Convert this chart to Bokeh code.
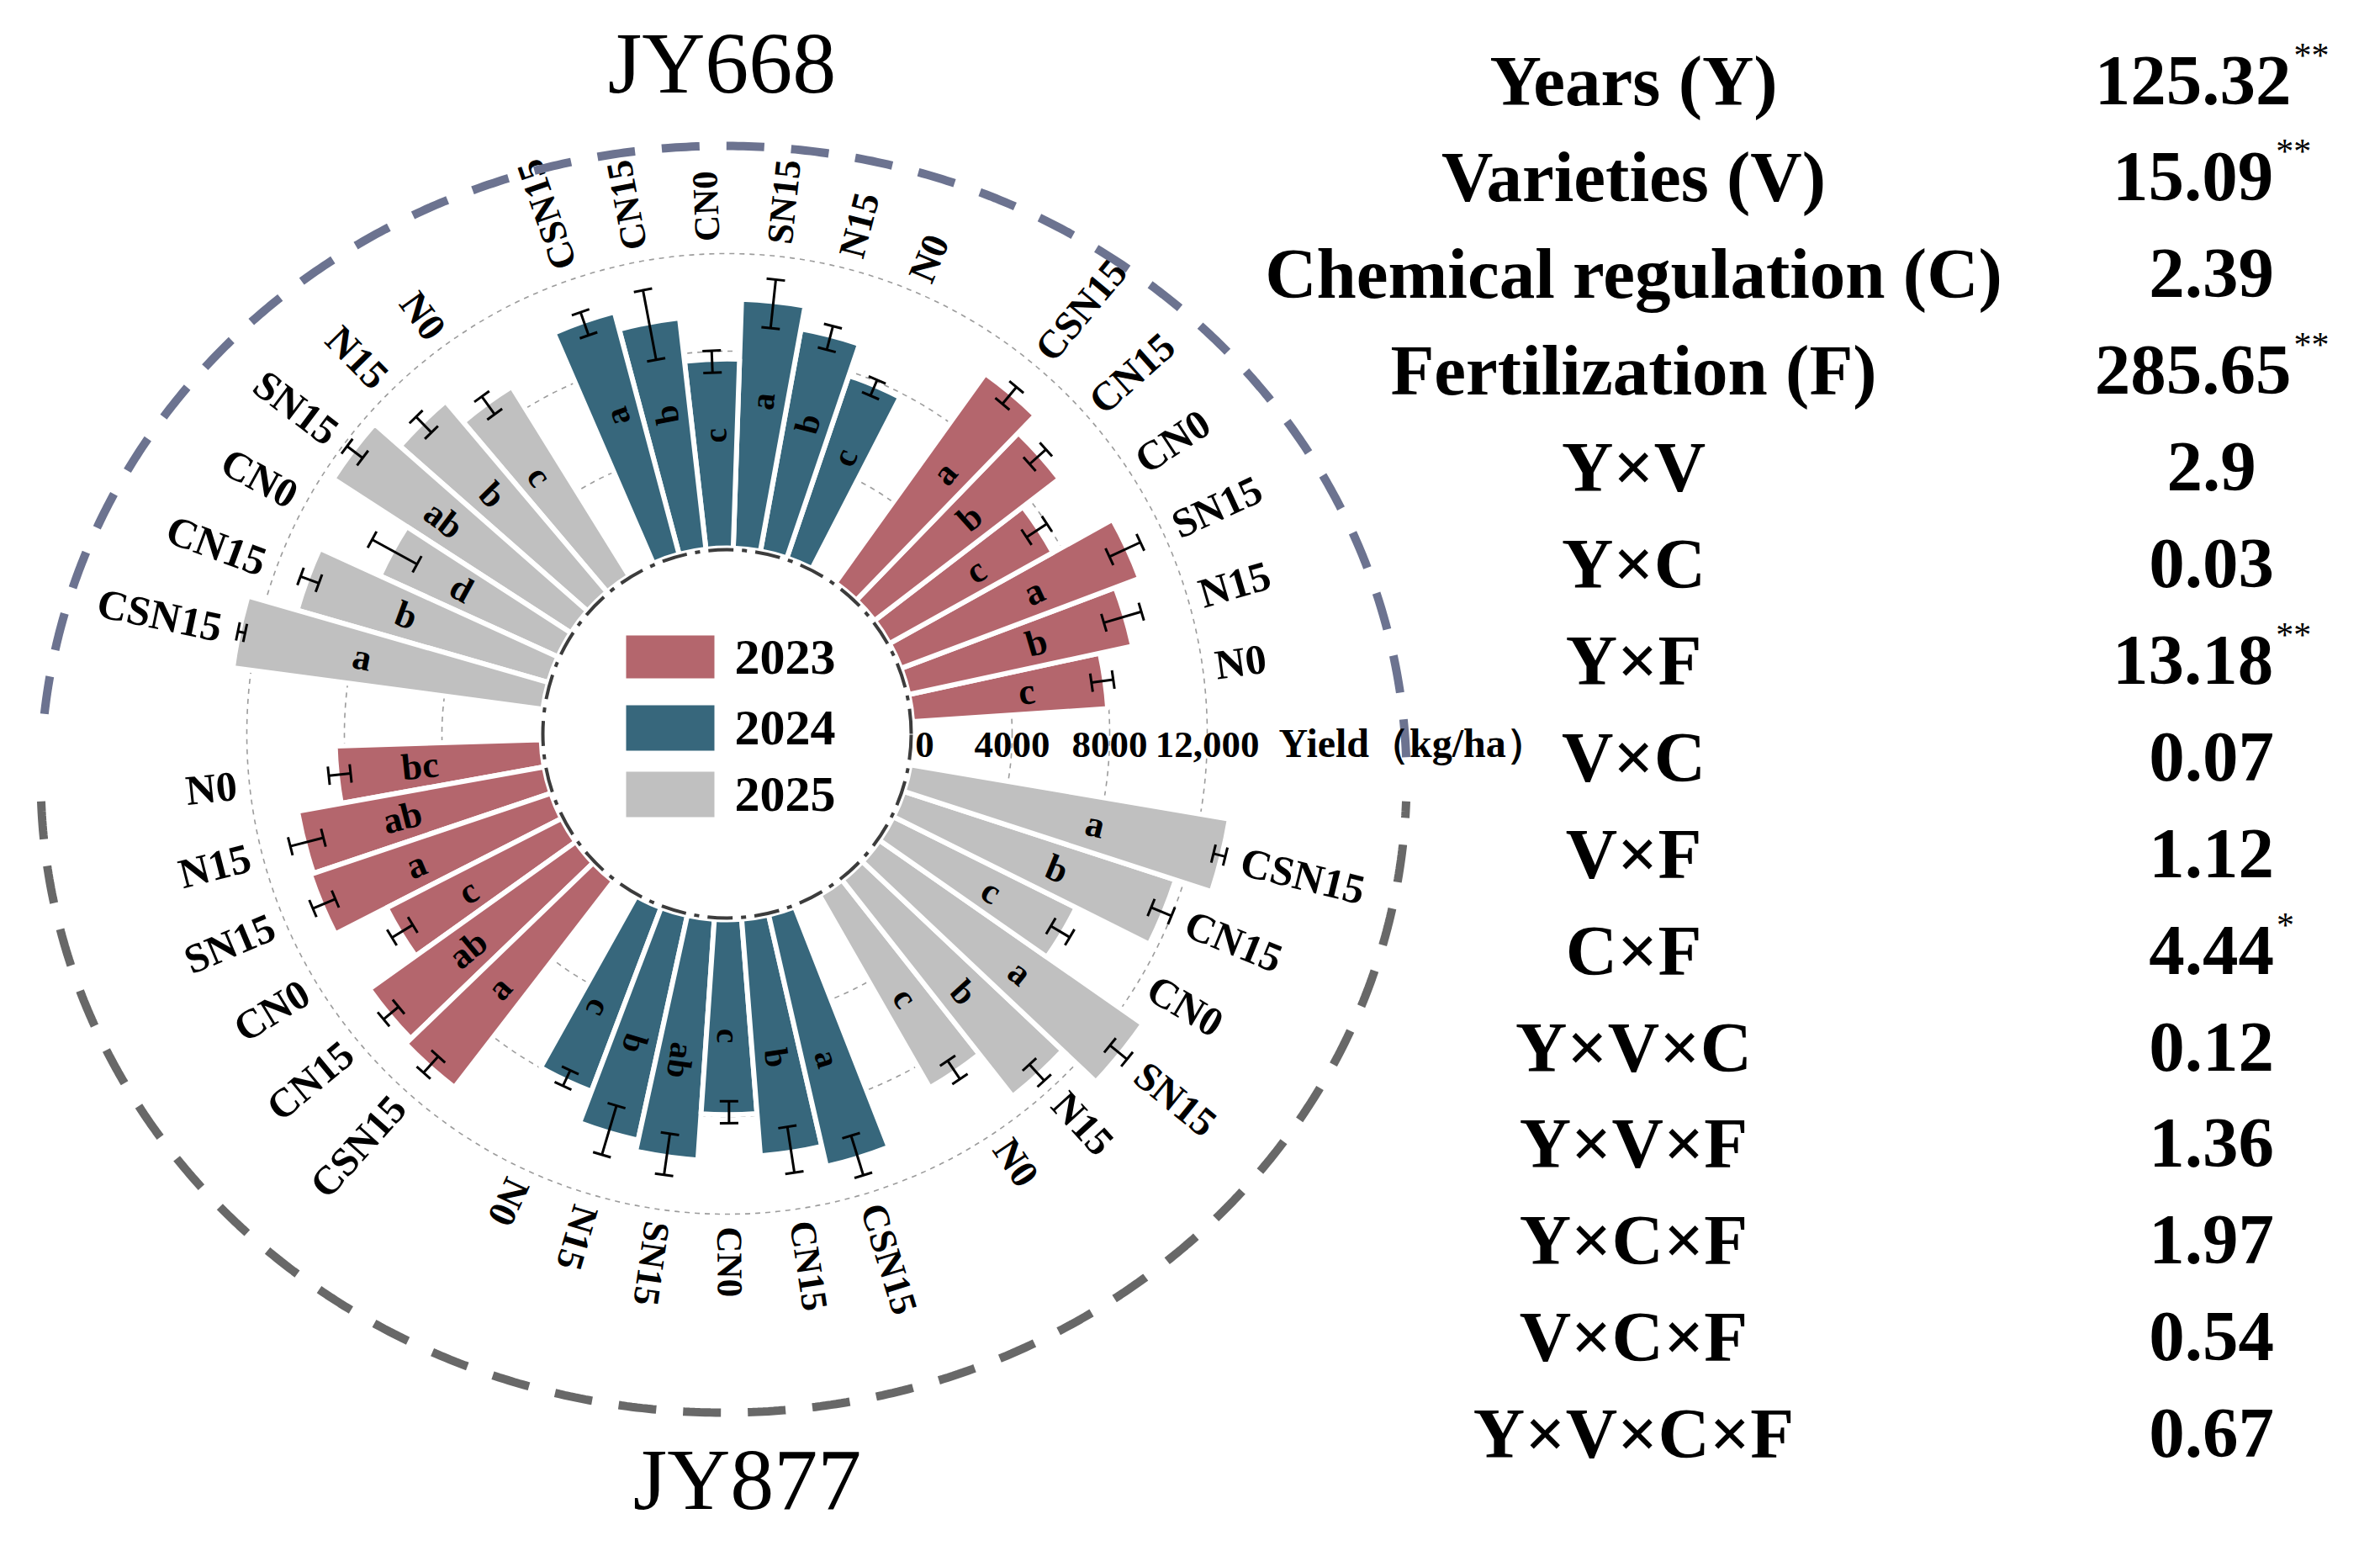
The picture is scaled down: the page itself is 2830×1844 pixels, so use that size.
import math
import numpy as np
from bokeh.plotting import figure
from bokeh.models import Range1d
from bokeh.core.properties import value
from bokeh.embed import file_html
from bokeh.resources import INLINE

# ---------------- data ----------------
treatments = ["N0", "N15", "SN15", "CN0", "CN15", "CSN15"]
years = ["2023", "2024", "2025"]
varieties = ["JY668", "JY877"]

jy668_2023 = [7850, 9220, 10290, 7500, 9380, 10380]
jy668_2023_err = [450, 800, 700, 500, 450, 450]
jy668_2023_sig = ["c", "b", "a", "c", "b", "a"]
jy668_2024 = [7720, 9080, 10040, 7580, 9370, 10110]
jy668_2024_err = [350, 500, 1000, 450, 1450, 500]
jy668_2024_sig = ["c", "b", "a", "c", "b", "a"]
jy668_2025 = [8960, 10070, 11450, 7850, 10550, 12650]
jy668_2025_err = [450, 450, 400, 1050, 400, 150]
jy668_2025_sig = ["c", "b", "ab", "d", "b", "a"]

jy877_2023 = [8280, 10100, 10240, 7890, 10220, 10510]
jy877_2023_err = [450, 700, 500, 500, 400, 450]
jy877_2023_sig = ["bc", "ab", "a", "c", "ab", "a"]
jy877_2024 = [7880, 9260, 9720, 7820, 9560, 10400]
jy877_2024_err = [350, 1050, 850, 450, 950, 850]
jy877_2024_sig = ["c", "b", "ab", "c", "b", "a"]
jy877_2025 = [8930, 11130, 13000, 8200, 11550, 13100]
jy877_2025_err = [450, 450, 450, 450, 450, 250]
jy877_2025_sig = ["c", "b", "a", "c", "b", "a"]

yield_ticks = [0, 4000, 8000, 12000]
yield_tick_labels = ["0", "4000", "8000", "12,000"]
yield_title = "Yield（kg/ha）"

anova_terms = ["Years (Y)", "Varieties (V)", "Chemical regulation (C)", "Fertilization (F)",
               "Y×V", "Y×C", "Y×F", "V×C", "V×F", "C×F",
               "Y×V×C", "Y×V×F", "Y×C×F", "V×C×F", "Y×V×C×F"]
anova_F = ["125.32", "15.09", "2.39", "285.65", "2.9", "0.03", "13.18", "0.07",
           "1.12", "4.44", "0.12", "1.36", "1.97", "0.54", "0.67"]
anova_sig = ["**", "**", "", "**", "", "", "**", "", "", "*", "", "", "", "", ""]

year_colors = ["#B4666D", "#37677C", "#C0C0C0"]

series = [
    (0, 0, jy668_2023, jy668_2023_err, jy668_2023_sig),
    (0, 1, jy668_2024, jy668_2024_err, jy668_2024_sig),
    (0, 2, jy668_2025, jy668_2025_err, jy668_2025_sig),
    (1, 0, jy877_2023, jy877_2023_err, jy877_2023_sig),
    (1, 1, jy877_2024, jy877_2024_err, jy877_2024_sig),
    (1, 2, jy877_2025, jy877_2025_err, jy877_2025_sig),
]

# ---------------- layout ----------------
W, H = 2814, 1828


def tx(xi):
    return xi - 8


def ty(yi):
    return 1836 - yi


CX, CY = tx(872), ty(880)
R0 = 223.0
K = 116.0 / 4000.0
HALF_START = [8.0, 186.0]
STEP = 8.43
LABEL_R = 586
FONT = value("Liberation Serif")


def rad(v):
    return R0 + K * v


def flip(theta):
    return 115 < theta < 235


p = figure(width=W, height=H, x_range=Range1d(0, W), y_range=Range1d(0, H),
           output_backend="svg", toolbar_location=None, min_border=0,
           x_axis_type=None, y_axis_type=None, outline_line_color=None)
p.background_fill_color = "white"
p.border_fill_color = "white"

# grid circles
for t in yield_ticks[1:]:
    p.arc(x=CX, y=CY, radius=rad(t), start_angle=0, end_angle=2 * math.pi,
          line_color="#9c9c9c", line_width=1.6, line_dash="6 6")

# bars
bx, by, bin_, bout, bs, be, bc = [], [], [], [], [], [], []
ex0, ey0, ex1, ey1 = [], [], [], []
lx, ly, lt, la, lfs = [], [], [], [], []
tlx, tly, tlt, tla, tlal, tlfs = [], [], [], [], [], []
for half, yi, vals, errs, sigs in series:
    for j, (v, e, s) in enumerate(zip(vals, errs, sigs)):
        k = yi * 7 + j
        th = HALF_START[half] + STEP * k
        a = math.radians(th)
        bx.append(CX); by.append(CY)
        bin_.append(R0 - 2); bout.append(rad(v) + 3)
        bs.append(math.radians(th - STEP / 2)); be.append(math.radians(th + STEP / 2))
        bc.append(year_colors[yi])
        # error bar
        ca, sa = math.cos(a), math.sin(a)
        r1, r2 = rad(v - e), rad(v + e)
        ex0.append(CX + r1 * ca); ey0.append(CY + r1 * sa)
        ex1.append(CX + r2 * ca); ey1.append(CY + r2 * sa)
        for rr in (r1, r2):
            px, py = CX + rr * ca, CY + rr * sa
            ex0.append(px - 11 * -sa); ey0.append(py - 11 * ca)
            ex1.append(px + 11 * -sa); ey1.append(py + 11 * ca)
        rot = math.radians(th - 180) if flip(th) else a
        horiz = abs(ca)
        # significance letter
        rl = R0 + K * 0.6 * v
        lx.append(CX + rl * ca); ly.append(CY + rl * sa); lt.append(s); la.append(rot)
        lfs.append("%dpx" % round(39 + 5 * horiz))
        # treatment label
        rlab = max(LABEL_R, r2 + 20)
        tlx.append(CX + rlab * ca); tly.append(CY + rlab * sa)
        tlt.append(treatments[j]); tla.append(rot)
        tlal.append("right" if flip(th) else "left")
        tlfs.append("%dpx" % round(43 + 7 * horiz))

p.annular_wedge(x=bx, y=by, inner_radius=bin_, outer_radius=bout,
                start_angle=bs, end_angle=be, fill_color=bc,
                line_color="white", line_width=6)
p.segment(x0=ex0, y0=ey0, x1=ex1, y1=ey1, line_color="black", line_width=3)
p.text(x=lx, y=ly, text=lt, angle=la, text_font=FONT, text_font_style="bold",
       text_font_size=lfs, text_align="center", text_baseline="middle",
       text_color="black")
p.text(x=tlx, y=tly, text=tlt, angle=tla, text_align=tlal, text_font=FONT,
       text_font_style="bold", text_font_size=tlfs, text_baseline="middle",
       text_color="black")

# inner dash-dot circle
p.arc(x=CX, y=CY, radius=219, start_angle=0, end_angle=2 * math.pi,
      line_color="#3c3c3c", line_width=4, line_dash="30 10 6 10")

# outer dashed elliptical ring
ecx, ecy, erx, ery = tx(868), ty(934), 812, 753
t_up = np.radians(np.linspace(2, 176, 400))
t_dn = np.radians(np.linspace(182, 358, 400))
p.line(x=ecx + erx * np.cos(t_up), y=ecy + ery * np.sin(t_up),
       line_color="#6C7390", line_width=10, line_dash="45 32")
p.line(x=ecx + erx * np.cos(t_dn), y=ecy + ery * np.sin(t_dn),
       line_color="#686868", line_width=10, line_dash="45 32")

# radial axis tick labels
tick_nudge = [12, 0, 0, 0]
p.text(x=[CX + rad(t) + n for t, n in zip(yield_ticks, tick_nudge)],
       y=[ty(893)] * len(yield_ticks), text=yield_tick_labels,
       text_font=FONT, text_font_style="bold", text_font_size="45px",
       text_align="center", text_baseline="middle", text_color="black")
p.text(x=[tx(1528)], y=[ty(891)], text=[yield_title], text_font=FONT,
       text_font_style="bold", text_font_size="48px", text_align="left",
       text_baseline="middle", text_color="black")

# legend in centre
leg_top = [763, 846, 925]
leg_bot = [814, 900, 979]
p.quad(left=[tx(752)] * 3, right=[tx(857)] * 3,
       top=[ty(t) for t in leg_top], bottom=[ty(b) for b in leg_bot],
       fill_color=year_colors, line_color=None)
p.text(x=[tx(881)] * 3, y=[ty((t + b) / 2) for t, b in zip(leg_top, leg_bot)],
       text=years, text_font=FONT, text_font_style="bold", text_font_size="60px",
       text_align="left", text_baseline="middle", text_color="black")

# variety titles
p.text(x=[tx(866), tx(896)], y=[ty(82), ty(1766)], text=varieties,
       text_font=FONT, text_font_size="104px", text_align="center",
       text_baseline="middle", text_color="black")

# ANOVA table
row_y = [103 + 114.9 * i for i in range(len(anova_terms))]
p.text(x=[tx(1950)] * len(anova_terms), y=[ty(y) for y in row_y], text=anova_terms,
       text_font=FONT, text_font_style="bold", text_font_size="85px",
       text_align="center", text_baseline="middle", text_color="black")
val_x = [tx(2615) if s == "**" else tx(2637) for s in anova_sig]
p.text(x=val_x, y=[ty(y) for y in row_y], text=anova_F,
       text_font=FONT, text_font_style="bold", text_font_size="85px",
       text_align="center", text_baseline="middle", text_color="black")
sx, sy, st = [], [], []
for xv, yv, f, s in zip(val_x, row_y, anova_F, anova_sig):
    if s:
        w = sum(0.25 if ch == "." else 0.5 for ch in f) * 85
        sx.append(xv + w / 2 + 3); sy.append(ty(yv - 30)); st.append(s)
p.text(x=sx, y=sy, text=st, text_font=FONT, text_font_size="42px",
       text_align="left", text_baseline="alphabetic", text_color="black")

open("out.html", "w").write(file_html(p, INLINE))
